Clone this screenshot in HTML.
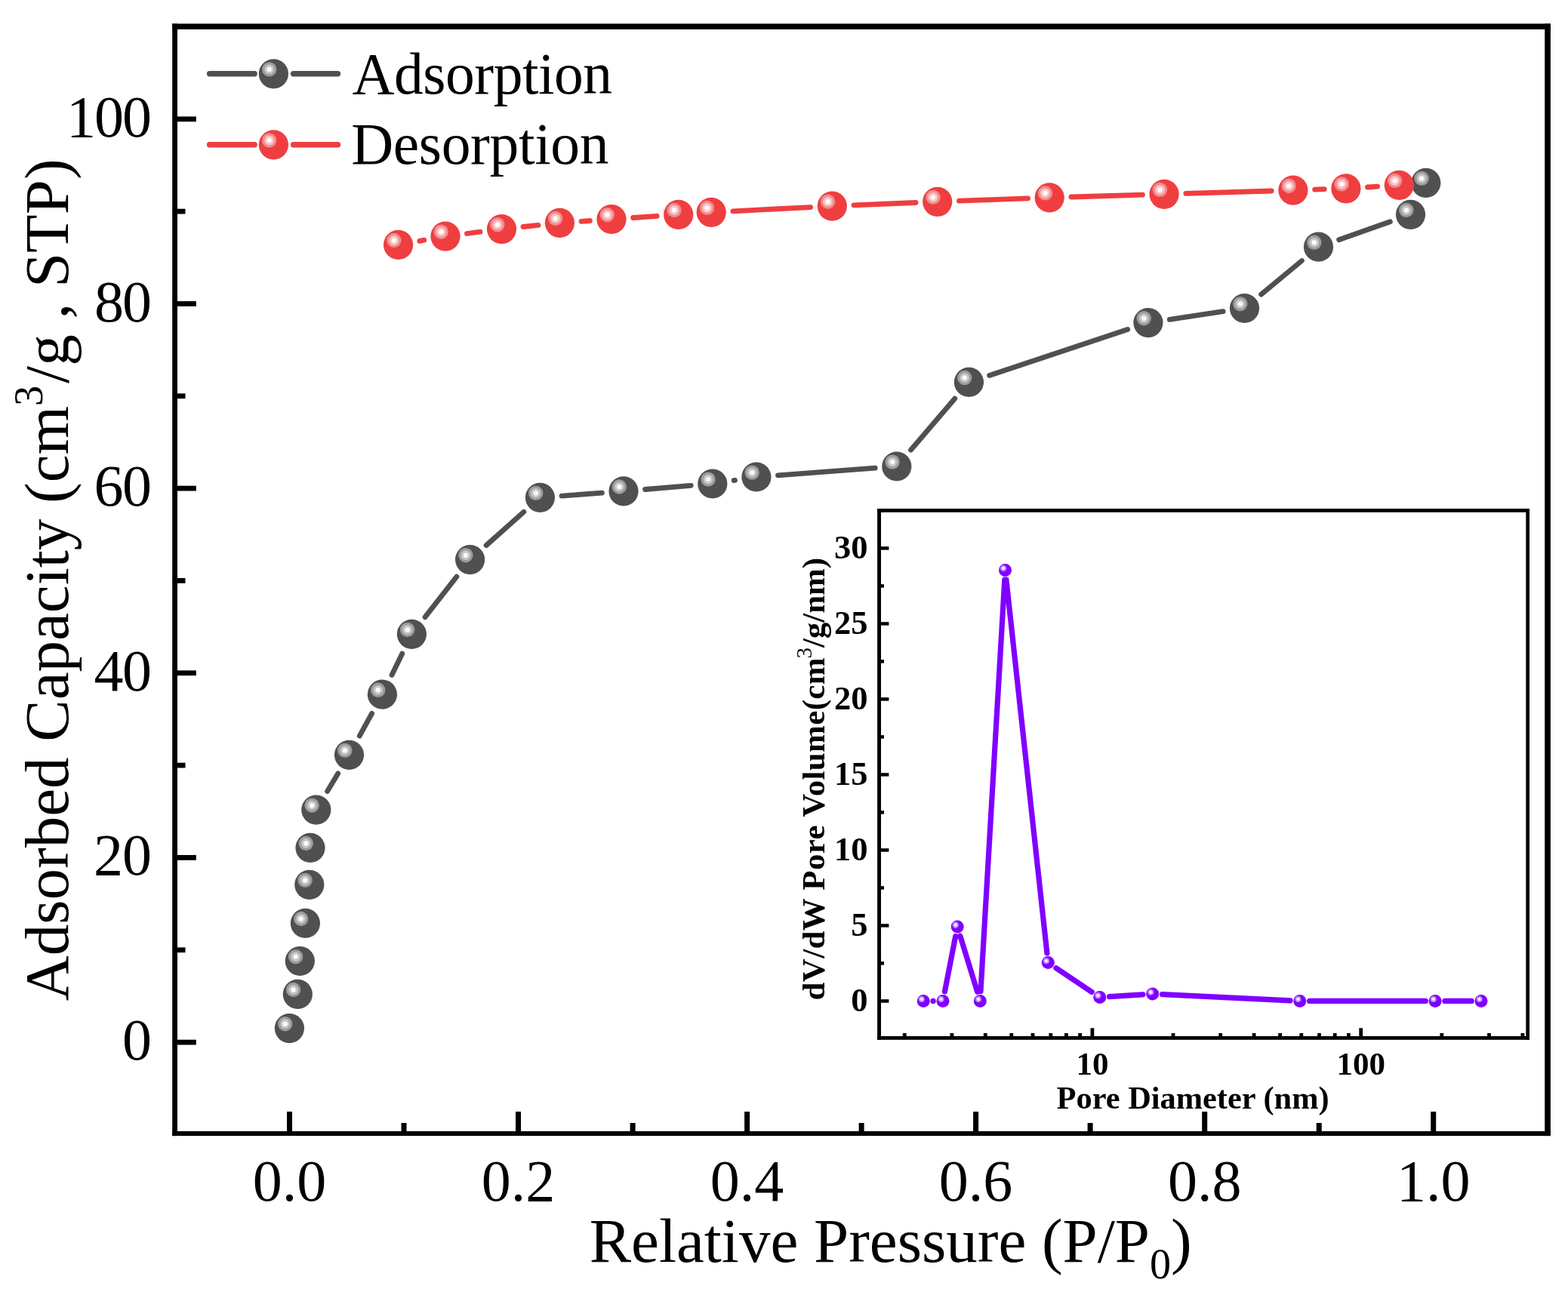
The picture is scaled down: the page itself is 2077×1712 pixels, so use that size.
<!DOCTYPE html>
<html><head><meta charset="utf-8"><title>Isotherm</title>
<style>html,body{margin:0;padding:0;background:#fff;}svg{display:block;}</style>
</head><body>
<svg width="2077" height="1712" viewBox="0 0 2077 1712">
<rect x="0" y="0" width="2077" height="1712" fill="#fff"/>
<path d="M433.6 1048.5L447.7 1024.9M476.3 975.1L492.6 945.4M519.0 894.4L532.8 866.1M563.1 817.7L604.9 764.2M644.1 722.6L693.9 678.3M744.0 657.1L797.4 653.1M854.6 648.5L915.2 643.4M972.2 636.6L973.5 636.4M1030.5 629.8L1159.2 620.2M1206.5 596.2L1264.7 528.2M1310.6 497.4L1493.7 436.6M1549.3 423.4L1620.1 412.7M1670.6 390.2L1724.4 345.5M1773.6 317.7L1841.4 293.8" stroke="#505050" stroke-width="6.8" stroke-linecap="round" fill="none"/>
<circle cx="383.4" cy="1362.6" r="19.6" fill="#505050"/><circle cx="377.7" cy="1356.7" r="9.7" fill="#9c9c9c"/><circle cx="377.7" cy="1356.7" r="6.4" fill="#c6c6c6"/><circle cx="377.7" cy="1356.7" r="3.2" fill="#fafafa"/>
<circle cx="394.3" cy="1317.4" r="19.6" fill="#505050"/><circle cx="388.6" cy="1311.5" r="9.7" fill="#9c9c9c"/><circle cx="388.6" cy="1311.5" r="6.4" fill="#c6c6c6"/><circle cx="388.6" cy="1311.5" r="3.2" fill="#fafafa"/>
<circle cx="397.3" cy="1273.5" r="19.6" fill="#505050"/><circle cx="391.6" cy="1267.6" r="9.7" fill="#9c9c9c"/><circle cx="391.6" cy="1267.6" r="6.4" fill="#c6c6c6"/><circle cx="391.6" cy="1267.6" r="3.2" fill="#fafafa"/>
<circle cx="404.4" cy="1223.4" r="19.6" fill="#505050"/><circle cx="398.7" cy="1217.5" r="9.7" fill="#9c9c9c"/><circle cx="398.7" cy="1217.5" r="6.4" fill="#c6c6c6"/><circle cx="398.7" cy="1217.5" r="3.2" fill="#fafafa"/>
<circle cx="409.8" cy="1172.3" r="19.6" fill="#505050"/><circle cx="404.1" cy="1166.4" r="9.7" fill="#9c9c9c"/><circle cx="404.1" cy="1166.4" r="6.4" fill="#c6c6c6"/><circle cx="404.1" cy="1166.4" r="3.2" fill="#fafafa"/>
<circle cx="411" cy="1123.4" r="19.6" fill="#505050"/><circle cx="405.3" cy="1117.5" r="9.7" fill="#9c9c9c"/><circle cx="405.3" cy="1117.5" r="6.4" fill="#c6c6c6"/><circle cx="405.3" cy="1117.5" r="3.2" fill="#fafafa"/>
<circle cx="418.8" cy="1073.1" r="19.6" fill="#505050"/><circle cx="413.1" cy="1067.2" r="9.7" fill="#9c9c9c"/><circle cx="413.1" cy="1067.2" r="6.4" fill="#c6c6c6"/><circle cx="413.1" cy="1067.2" r="3.2" fill="#fafafa"/>
<circle cx="462.5" cy="1000.3" r="19.6" fill="#505050"/><circle cx="456.8" cy="994.4" r="9.7" fill="#9c9c9c"/><circle cx="456.8" cy="994.4" r="6.4" fill="#c6c6c6"/><circle cx="456.8" cy="994.4" r="3.2" fill="#fafafa"/>
<circle cx="506.4" cy="920.2" r="19.6" fill="#505050"/><circle cx="500.7" cy="914.3" r="9.7" fill="#9c9c9c"/><circle cx="500.7" cy="914.3" r="6.4" fill="#c6c6c6"/><circle cx="500.7" cy="914.3" r="3.2" fill="#fafafa"/>
<circle cx="545.4" cy="840.3" r="19.6" fill="#505050"/><circle cx="539.7" cy="834.4" r="9.7" fill="#9c9c9c"/><circle cx="539.7" cy="834.4" r="6.4" fill="#c6c6c6"/><circle cx="539.7" cy="834.4" r="3.2" fill="#fafafa"/>
<circle cx="622.6" cy="741.6" r="19.6" fill="#505050"/><circle cx="616.9" cy="735.7" r="9.7" fill="#9c9c9c"/><circle cx="616.9" cy="735.7" r="6.4" fill="#c6c6c6"/><circle cx="616.9" cy="735.7" r="3.2" fill="#fafafa"/>
<circle cx="715.4" cy="659.3" r="19.6" fill="#505050"/><circle cx="709.7" cy="653.4" r="9.7" fill="#9c9c9c"/><circle cx="709.7" cy="653.4" r="6.4" fill="#c6c6c6"/><circle cx="709.7" cy="653.4" r="3.2" fill="#fafafa"/>
<circle cx="826" cy="650.9" r="19.6" fill="#505050"/><circle cx="820.3" cy="645.0" r="9.7" fill="#9c9c9c"/><circle cx="820.3" cy="645.0" r="6.4" fill="#c6c6c6"/><circle cx="820.3" cy="645.0" r="3.2" fill="#fafafa"/>
<circle cx="943.8" cy="641" r="19.6" fill="#505050"/><circle cx="938.1" cy="635.1" r="9.7" fill="#9c9c9c"/><circle cx="938.1" cy="635.1" r="6.4" fill="#c6c6c6"/><circle cx="938.1" cy="635.1" r="3.2" fill="#fafafa"/>
<circle cx="1001.9" cy="632" r="19.6" fill="#505050"/><circle cx="996.2" cy="626.1" r="9.7" fill="#9c9c9c"/><circle cx="996.2" cy="626.1" r="6.4" fill="#c6c6c6"/><circle cx="996.2" cy="626.1" r="3.2" fill="#fafafa"/>
<circle cx="1187.8" cy="618" r="19.6" fill="#505050"/><circle cx="1182.1" cy="612.1" r="9.7" fill="#9c9c9c"/><circle cx="1182.1" cy="612.1" r="6.4" fill="#c6c6c6"/><circle cx="1182.1" cy="612.1" r="3.2" fill="#fafafa"/>
<circle cx="1283.4" cy="506.4" r="19.6" fill="#505050"/><circle cx="1277.7" cy="500.5" r="9.7" fill="#9c9c9c"/><circle cx="1277.7" cy="500.5" r="6.4" fill="#c6c6c6"/><circle cx="1277.7" cy="500.5" r="3.2" fill="#fafafa"/>
<circle cx="1520.9" cy="427.6" r="19.6" fill="#505050"/><circle cx="1515.2" cy="421.7" r="9.7" fill="#9c9c9c"/><circle cx="1515.2" cy="421.7" r="6.4" fill="#c6c6c6"/><circle cx="1515.2" cy="421.7" r="3.2" fill="#fafafa"/>
<circle cx="1648.5" cy="408.5" r="19.6" fill="#505050"/><circle cx="1642.8" cy="402.6" r="9.7" fill="#9c9c9c"/><circle cx="1642.8" cy="402.6" r="6.4" fill="#c6c6c6"/><circle cx="1642.8" cy="402.6" r="3.2" fill="#fafafa"/>
<circle cx="1746.5" cy="327.2" r="19.6" fill="#505050"/><circle cx="1740.8" cy="321.3" r="9.7" fill="#9c9c9c"/><circle cx="1740.8" cy="321.3" r="6.4" fill="#c6c6c6"/><circle cx="1740.8" cy="321.3" r="3.2" fill="#fafafa"/>
<circle cx="1868.5" cy="284.3" r="19.6" fill="#505050"/><circle cx="1862.8" cy="278.4" r="9.7" fill="#9c9c9c"/><circle cx="1862.8" cy="278.4" r="6.4" fill="#c6c6c6"/><circle cx="1862.8" cy="278.4" r="3.2" fill="#fafafa"/>
<circle cx="1888.8" cy="242.3" r="19.6" fill="#505050"/><circle cx="1883.1" cy="236.4" r="9.7" fill="#9c9c9c"/><circle cx="1883.1" cy="236.4" r="6.4" fill="#c6c6c6"/><circle cx="1883.1" cy="236.4" r="3.2" fill="#fafafa"/>
<path d="M555.8 319.3L561.8 318.2M618.5 309.5L636.0 307.2M693.0 300.5L712.9 298.4M770.0 293.3L781.4 292.5M838.6 288.5L870.1 286.4M970.9 279.8L1073.6 274.6M1131.0 271.9L1213.0 268.5M1270.4 266.2L1361.5 262.9M1418.9 261.0L1513.4 258.1M1570.8 256.4L1684.2 253.0M1741.6 251.2L1754.2 250.7M1811.5 248.0L1824.7 247.1" stroke="#ef3e40" stroke-width="6.8" stroke-linecap="round" fill="none"/>
<circle cx="527.6" cy="324.4" r="19.6" fill="#ef3e40"/><circle cx="521.9" cy="318.5" r="9.7" fill="#f28c8e"/><circle cx="521.9" cy="318.5" r="6.4" fill="#f8c4c5"/><circle cx="521.9" cy="318.5" r="3.2" fill="#fffafa"/>
<circle cx="590" cy="313.1" r="19.6" fill="#ef3e40"/><circle cx="584.3" cy="307.2" r="9.7" fill="#f28c8e"/><circle cx="584.3" cy="307.2" r="6.4" fill="#f8c4c5"/><circle cx="584.3" cy="307.2" r="3.2" fill="#fffafa"/>
<circle cx="664.5" cy="303.6" r="19.6" fill="#ef3e40"/><circle cx="658.8" cy="297.7" r="9.7" fill="#f28c8e"/><circle cx="658.8" cy="297.7" r="6.4" fill="#f8c4c5"/><circle cx="658.8" cy="297.7" r="3.2" fill="#fffafa"/>
<circle cx="741.4" cy="295.3" r="19.6" fill="#ef3e40"/><circle cx="735.7" cy="289.4" r="9.7" fill="#f28c8e"/><circle cx="735.7" cy="289.4" r="6.4" fill="#f8c4c5"/><circle cx="735.7" cy="289.4" r="3.2" fill="#fffafa"/>
<circle cx="810" cy="290.5" r="19.6" fill="#ef3e40"/><circle cx="804.3" cy="284.6" r="9.7" fill="#f28c8e"/><circle cx="804.3" cy="284.6" r="6.4" fill="#f8c4c5"/><circle cx="804.3" cy="284.6" r="3.2" fill="#fffafa"/>
<circle cx="898.7" cy="284.4" r="19.6" fill="#ef3e40"/><circle cx="893.0" cy="278.5" r="9.7" fill="#f28c8e"/><circle cx="893.0" cy="278.5" r="6.4" fill="#f8c4c5"/><circle cx="893.0" cy="278.5" r="3.2" fill="#fffafa"/>
<circle cx="942.2" cy="281.3" r="19.6" fill="#ef3e40"/><circle cx="936.5" cy="275.4" r="9.7" fill="#f28c8e"/><circle cx="936.5" cy="275.4" r="6.4" fill="#f8c4c5"/><circle cx="936.5" cy="275.4" r="3.2" fill="#fffafa"/>
<circle cx="1102.3" cy="273.1" r="19.6" fill="#ef3e40"/><circle cx="1096.6" cy="267.2" r="9.7" fill="#f28c8e"/><circle cx="1096.6" cy="267.2" r="6.4" fill="#f8c4c5"/><circle cx="1096.6" cy="267.2" r="3.2" fill="#fffafa"/>
<circle cx="1241.7" cy="267.3" r="19.6" fill="#ef3e40"/><circle cx="1236.0" cy="261.4" r="9.7" fill="#f28c8e"/><circle cx="1236.0" cy="261.4" r="6.4" fill="#f8c4c5"/><circle cx="1236.0" cy="261.4" r="3.2" fill="#fffafa"/>
<circle cx="1390.2" cy="261.8" r="19.6" fill="#ef3e40"/><circle cx="1384.5" cy="255.9" r="9.7" fill="#f28c8e"/><circle cx="1384.5" cy="255.9" r="6.4" fill="#f8c4c5"/><circle cx="1384.5" cy="255.9" r="3.2" fill="#fffafa"/>
<circle cx="1542.1" cy="257.3" r="19.6" fill="#ef3e40"/><circle cx="1536.4" cy="251.4" r="9.7" fill="#f28c8e"/><circle cx="1536.4" cy="251.4" r="6.4" fill="#f8c4c5"/><circle cx="1536.4" cy="251.4" r="3.2" fill="#fffafa"/>
<circle cx="1712.9" cy="252.1" r="19.6" fill="#ef3e40"/><circle cx="1707.2" cy="246.2" r="9.7" fill="#f28c8e"/><circle cx="1707.2" cy="246.2" r="6.4" fill="#f8c4c5"/><circle cx="1707.2" cy="246.2" r="3.2" fill="#fffafa"/>
<circle cx="1782.9" cy="249.8" r="19.6" fill="#ef3e40"/><circle cx="1777.2" cy="243.9" r="9.7" fill="#f28c8e"/><circle cx="1777.2" cy="243.9" r="6.4" fill="#f8c4c5"/><circle cx="1777.2" cy="243.9" r="3.2" fill="#fffafa"/>
<circle cx="1853.3" cy="245.3" r="19.6" fill="#ef3e40"/><circle cx="1847.6" cy="239.4" r="9.7" fill="#f28c8e"/><circle cx="1847.6" cy="239.4" r="6.4" fill="#f8c4c5"/><circle cx="1847.6" cy="239.4" r="3.2" fill="#fffafa"/>
<path d="M277.6 97.8H337.2M388.6 97.8H447.5" stroke="#505050" stroke-width="7.4" stroke-linecap="round"/>
<circle cx="362.4" cy="97.8" r="19.6" fill="#505050"/><circle cx="356.7" cy="91.9" r="9.7" fill="#9c9c9c"/><circle cx="356.7" cy="91.9" r="6.4" fill="#c6c6c6"/><circle cx="356.7" cy="91.9" r="3.2" fill="#fafafa"/>
<text x="466.6" y="124" font-family="'Liberation Serif', serif" font-size="77.5" letter-spacing="-0.47">Adsorption</text>
<path d="M277.6 191.8H337.2M388.6 191.8H447.5" stroke="#ef3e40" stroke-width="7.4" stroke-linecap="round"/>
<circle cx="362.4" cy="191.8" r="19.6" fill="#ef3e40"/><circle cx="356.7" cy="185.9" r="9.7" fill="#f28c8e"/><circle cx="356.7" cy="185.9" r="6.4" fill="#f8c4c5"/><circle cx="356.7" cy="185.9" r="3.2" fill="#fffafa"/>
<text x="465.2" y="216.6" font-family="'Liberation Serif', serif" font-size="77.5" letter-spacing="-0.34">Desorption</text>
<rect x="1164.5" y="676.4" width="859.3" height="699" fill="#fff"/>
<path d="M1236.0 1326.4L1236.2 1326.4M1251.5 1313.8L1265.7 1240.6M1271.9 1240.2L1294.6 1314.2M1299.0 1313.6L1330.8 768.2M1332.9 768.1L1386.9 1262.9M1398.9 1282.7L1446.2 1314.4M1469.6 1320.7L1513.9 1317.9M1539.5 1317.7L1709.0 1325.8M1734.6 1326.4L1888.3 1326.4M1913.9 1326.4L1949.2 1326.4" stroke="#8000ff" stroke-width="7.2" stroke-linecap="round" fill="none"/>
<circle cx="1223.2" cy="1326.4" r="8.5" fill="#8000ff"/><circle cx="1220.8" cy="1324.0" r="4.3" fill="#b070ff"/><circle cx="1220.8" cy="1324.0" r="2.8" fill="#dcc0ff"/><circle cx="1220.8" cy="1324.0" r="1.4" fill="#ffffff"/>
<circle cx="1249" cy="1326.4" r="8.5" fill="#8000ff"/><circle cx="1246.6" cy="1324.0" r="4.3" fill="#b070ff"/><circle cx="1246.6" cy="1324.0" r="2.8" fill="#dcc0ff"/><circle cx="1246.6" cy="1324.0" r="1.4" fill="#ffffff"/>
<circle cx="1268.2" cy="1228" r="8.5" fill="#8000ff"/><circle cx="1265.8" cy="1225.6" r="4.3" fill="#b070ff"/><circle cx="1265.8" cy="1225.6" r="2.8" fill="#dcc0ff"/><circle cx="1265.8" cy="1225.6" r="1.4" fill="#ffffff"/>
<circle cx="1298.3" cy="1326.4" r="8.5" fill="#8000ff"/><circle cx="1295.9" cy="1324.0" r="4.3" fill="#b070ff"/><circle cx="1295.9" cy="1324.0" r="2.8" fill="#dcc0ff"/><circle cx="1295.9" cy="1324.0" r="1.4" fill="#ffffff"/>
<circle cx="1331.5" cy="755.4" r="8.5" fill="#8000ff"/><circle cx="1329.1" cy="753.0" r="4.3" fill="#b070ff"/><circle cx="1329.1" cy="753.0" r="2.8" fill="#dcc0ff"/><circle cx="1329.1" cy="753.0" r="1.4" fill="#ffffff"/>
<circle cx="1388.3" cy="1275.6" r="8.5" fill="#8000ff"/><circle cx="1385.9" cy="1273.2" r="4.3" fill="#b070ff"/><circle cx="1385.9" cy="1273.2" r="2.8" fill="#dcc0ff"/><circle cx="1385.9" cy="1273.2" r="1.4" fill="#ffffff"/>
<circle cx="1456.8" cy="1321.5" r="8.5" fill="#8000ff"/><circle cx="1454.4" cy="1319.1" r="4.3" fill="#b070ff"/><circle cx="1454.4" cy="1319.1" r="2.8" fill="#dcc0ff"/><circle cx="1454.4" cy="1319.1" r="1.4" fill="#ffffff"/>
<circle cx="1526.7" cy="1317.1" r="8.5" fill="#8000ff"/><circle cx="1524.3" cy="1314.7" r="4.3" fill="#b070ff"/><circle cx="1524.3" cy="1314.7" r="2.8" fill="#dcc0ff"/><circle cx="1524.3" cy="1314.7" r="1.4" fill="#ffffff"/>
<circle cx="1721.8" cy="1326.4" r="8.5" fill="#8000ff"/><circle cx="1719.4" cy="1324.0" r="4.3" fill="#b070ff"/><circle cx="1719.4" cy="1324.0" r="2.8" fill="#dcc0ff"/><circle cx="1719.4" cy="1324.0" r="1.4" fill="#ffffff"/>
<circle cx="1901.1" cy="1326.4" r="8.5" fill="#8000ff"/><circle cx="1898.7" cy="1324.0" r="4.3" fill="#b070ff"/><circle cx="1898.7" cy="1324.0" r="2.8" fill="#dcc0ff"/><circle cx="1898.7" cy="1324.0" r="1.4" fill="#ffffff"/>
<circle cx="1962" cy="1326.4" r="8.5" fill="#8000ff"/><circle cx="1959.6" cy="1324.0" r="4.3" fill="#b070ff"/><circle cx="1959.6" cy="1324.0" r="2.8" fill="#dcc0ff"/><circle cx="1959.6" cy="1324.0" r="1.4" fill="#ffffff"/>
<g fill="#000">
<rect x="1162.1" y="674" width="863.9" height="4.8"/>
<rect x="1162.1" y="1373" width="863.9" height="4.8"/>
<rect x="1162.1" y="674" width="4.9" height="703.8"/>
<rect x="2021.3" y="674" width="4.7" height="703.8"/>
<rect x="1166" y="1324.2" width="11.4" height="4.5"/>
<rect x="1166" y="1224.2" width="11.4" height="4.5"/>
<rect x="1166" y="1124.2" width="11.4" height="4.5"/>
<rect x="1166" y="1024.2" width="11.4" height="4.5"/>
<rect x="1166" y="924.2" width="11.4" height="4.5"/>
<rect x="1166" y="824.2" width="11.4" height="4.5"/>
<rect x="1166" y="724.2" width="11.4" height="4.5"/>
<rect x="1166" y="1274.2" width="5" height="4.5"/>
<rect x="1166" y="1174.2" width="5" height="4.5"/>
<rect x="1166" y="1074.2" width="5" height="4.5"/>
<rect x="1166" y="974.2" width="5" height="4.5"/>
<rect x="1166" y="874.2" width="5" height="4.5"/>
<rect x="1166" y="774.2" width="5" height="4.5"/>
<rect x="1166" y="674.2" width="5" height="4.5"/>
<rect x="1444.5" y="1362.3" width="4.8" height="11.5"/>
<rect x="1800.3" y="1362.3" width="4.8" height="11.5"/>
<rect x="1195.8" y="1369" width="4.8" height="5"/>
<rect x="1258.5" y="1369" width="4.8" height="5"/>
<rect x="1302.9" y="1369" width="4.8" height="5"/>
<rect x="1337.4" y="1369" width="4.8" height="5"/>
<rect x="1365.6" y="1369" width="4.8" height="5"/>
<rect x="1389.4" y="1369" width="4.8" height="5"/>
<rect x="1410.0" y="1369" width="4.8" height="5"/>
<rect x="1428.2" y="1369" width="4.8" height="5"/>
<rect x="1551.6" y="1369" width="4.8" height="5"/>
<rect x="1614.3" y="1369" width="4.8" height="5"/>
<rect x="1658.7" y="1369" width="4.8" height="5"/>
<rect x="1693.2" y="1369" width="4.8" height="5"/>
<rect x="1721.4" y="1369" width="4.8" height="5"/>
<rect x="1745.2" y="1369" width="4.8" height="5"/>
<rect x="1765.8" y="1369" width="4.8" height="5"/>
<rect x="1784.0" y="1369" width="4.8" height="5"/>
<rect x="1907.4" y="1369" width="4.8" height="5"/>
<rect x="1970.1" y="1369" width="4.8" height="5"/>
<rect x="2014.5" y="1369" width="4.8" height="5"/>
</g>
<text x="1149.6" y="1339.6" font-family="'Liberation Serif', serif" font-weight="bold" font-size="44.5" text-anchor="end">0</text>
<text x="1149.6" y="1239.6" font-family="'Liberation Serif', serif" font-weight="bold" font-size="44.5" text-anchor="end">5</text>
<text x="1149.6" y="1139.6" font-family="'Liberation Serif', serif" font-weight="bold" font-size="44.5" text-anchor="end">10</text>
<text x="1149.6" y="1039.6" font-family="'Liberation Serif', serif" font-weight="bold" font-size="44.5" text-anchor="end">15</text>
<text x="1149.6" y="939.6" font-family="'Liberation Serif', serif" font-weight="bold" font-size="44.5" text-anchor="end">20</text>
<text x="1149.6" y="839.6" font-family="'Liberation Serif', serif" font-weight="bold" font-size="44.5" text-anchor="end">25</text>
<text x="1149.6" y="739.6" font-family="'Liberation Serif', serif" font-weight="bold" font-size="44.5" text-anchor="end">30</text>
<text x="1446.9" y="1423.6" font-family="'Liberation Serif', serif" font-weight="bold" font-size="43" text-anchor="middle">10</text>
<text x="1802.7" y="1423.6" font-family="'Liberation Serif', serif" font-weight="bold" font-size="43" text-anchor="middle">100</text>
<text x="1399.6" y="1468.6" font-family="'Liberation Serif', serif" font-weight="bold" font-size="42.4">Pore Diameter (nm)</text>
<text transform="translate(1092.3,1325.5) rotate(-90)" font-family="'Liberation Serif', serif" font-weight="bold" font-size="42.9"><tspan letter-spacing="0.4">dV/dW Pore Volume(cm</tspan><tspan font-size="29" font-weight="normal" dy="-17.7" dx="-1.5">3</tspan><tspan dy="17.7">/g/nm)</tspan></text>
<g fill="#000">
<rect x="228.2" y="31.4" width="1825.7" height="7.5"/>
<rect x="228.2" y="1498.9" width="1825.7" height="6.2"/>
<rect x="228.2" y="31.4" width="6.8" height="1473.7"/>
<rect x="2046.2" y="31.4" width="7.7" height="1473.7"/>
<rect x="234" y="1377.7" width="25.8" height="6.8"/>
<rect x="234" y="1133.0" width="25.8" height="6.8"/>
<rect x="234" y="888.4" width="25.8" height="6.8"/>
<rect x="234" y="643.7" width="25.8" height="6.8"/>
<rect x="234" y="399.1" width="25.8" height="6.8"/>
<rect x="234" y="154.4" width="25.8" height="6.8"/>
<rect x="234" y="1255.4" width="11.5" height="6.8"/>
<rect x="234" y="1010.7" width="11.5" height="6.8"/>
<rect x="234" y="766.0" width="11.5" height="6.8"/>
<rect x="234" y="521.4" width="11.5" height="6.8"/>
<rect x="234" y="276.7" width="11.5" height="6.8"/>
<rect x="380.0" y="1473" width="7" height="27"/>
<rect x="683.0" y="1473" width="7" height="27"/>
<rect x="986.1" y="1473" width="7" height="27"/>
<rect x="1289.1" y="1473" width="7" height="27"/>
<rect x="1592.2" y="1473" width="7" height="27"/>
<rect x="1895.2" y="1473" width="7" height="27"/>
<rect x="531.5" y="1488" width="7" height="12"/>
<rect x="834.6" y="1488" width="7" height="12"/>
<rect x="1137.6" y="1488" width="7" height="12"/>
<rect x="1440.6" y="1488" width="7" height="12"/>
<rect x="1743.7" y="1488" width="7" height="12"/>
</g>
<text x="162.1" y="1404.1" font-family="'Liberation Serif', serif" font-size="78" letter-spacing="0">0</text>
<text x="123.9" y="1159.4" font-family="'Liberation Serif', serif" font-size="78" letter-spacing="-0.8">20</text>
<text x="124.6" y="914.8" font-family="'Liberation Serif', serif" font-size="78" letter-spacing="-1.5">40</text>
<text x="124.6" y="670.1" font-family="'Liberation Serif', serif" font-size="78" letter-spacing="-1.5">60</text>
<text x="125.1" y="425.5" font-family="'Liberation Serif', serif" font-size="78" letter-spacing="-2.0">80</text>
<text x="88.1" y="180.8" font-family="'Liberation Serif', serif" font-size="78" letter-spacing="-2.0">100</text>
<text x="383.5" y="1591" font-family="'Liberation Serif', serif" font-size="78" text-anchor="middle">0.0</text>
<text x="686.5" y="1591" font-family="'Liberation Serif', serif" font-size="78" text-anchor="middle">0.2</text>
<text x="989.6" y="1591" font-family="'Liberation Serif', serif" font-size="78" text-anchor="middle">0.4</text>
<text x="1292.6" y="1591" font-family="'Liberation Serif', serif" font-size="78" text-anchor="middle">0.6</text>
<text x="1595.7" y="1591" font-family="'Liberation Serif', serif" font-size="78" text-anchor="middle">0.8</text>
<text x="1898.7" y="1591" font-family="'Liberation Serif', serif" font-size="78" text-anchor="middle">1.0</text>
<text x="780.7" y="1671.8" font-family="'Liberation Serif', serif" font-size="83">Relative Pressure (P/P<tspan font-size="56" dy="22.5">0</tspan><tspan dy="-22.5">)</tspan></text>
<text transform="translate(90,1326.2) rotate(-90)" font-family="'Liberation Serif', serif" font-size="83">Adsorbed Capacity (cm<tspan font-size="54" dy="-34">3</tspan><tspan dy="34" dx="3">/g , STP)</tspan></text>
</svg>
</body></html>
